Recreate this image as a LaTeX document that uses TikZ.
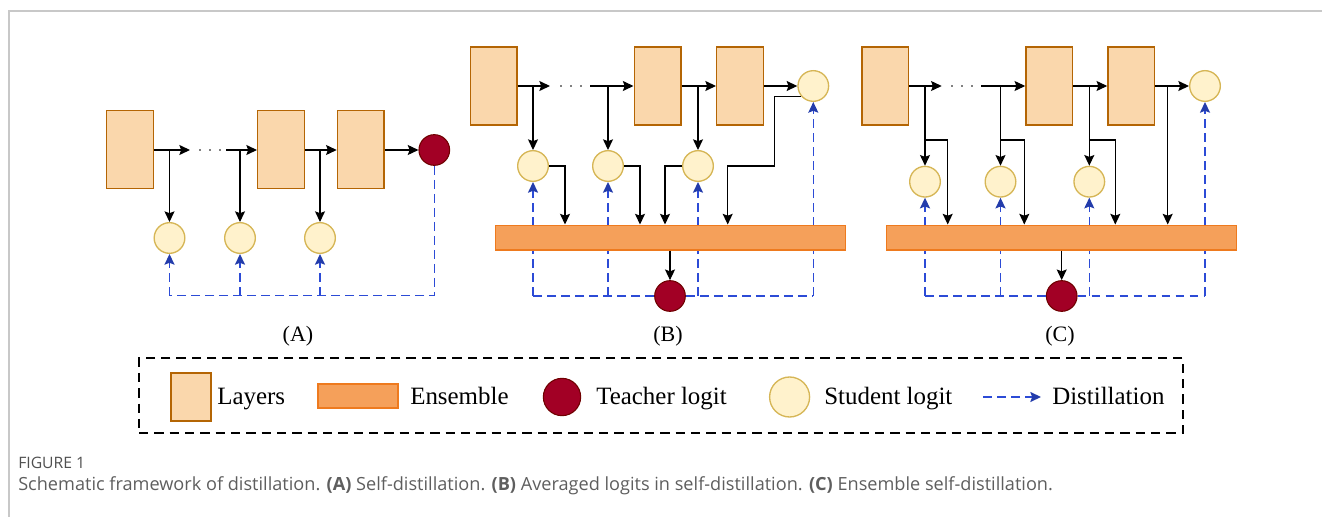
\documentclass[tikz,border=0pt]{standalone}
\usepackage{fontspec}
\setmainfont{Liberation Serif}
\newfontfamily\capfont{Open Sans}
\usetikzlibrary{arrows.meta,calc}
\definecolor{layerfill}{HTML}{FAD7AC}
\definecolor{layerdraw}{HTML}{B46504}
\definecolor{ensfill}{HTML}{F5A05A}
\definecolor{ensdraw}{HTML}{EE7A1E}
\definecolor{teachfill}{HTML}{A20025}
\definecolor{teachdraw}{HTML}{6F0000}
\definecolor{studfill}{HTML}{FFF2CC}
\definecolor{studdraw}{HTML}{D6B656}
\definecolor{distblue}{HTML}{2C4BD6}
\definecolor{capgray}{HTML}{5E5E5E}
\definecolor{framegray}{HTML}{C8C8C8}
\tikzset{
  layer/.style={draw=layerdraw, fill=layerfill, line width=1pt, minimum width=35pt, minimum height=58.5pt, inner sep=0pt},
  ens/.style={draw=ensdraw, fill=ensfill, line width=1pt, minimum width=262.5pt, minimum height=18.5pt, inner sep=0pt},
  teacher/.style={circle, draw=teachdraw, fill=teachfill, line width=0.8pt, minimum size=23pt, inner sep=0pt},
  student/.style={circle, draw=studdraw, fill=studfill, line width=1pt, minimum size=23pt, inner sep=0pt},
  flow/.style={draw=black, line width=0.85pt, -{Stealth[length=8pt,width=7.5pt,inset=1.4pt]}},
  dist/.style={draw=distblue, line width=1.1pt, dash pattern=on 6.5pt off 4pt, -{Stealth[length=8pt,width=7.5pt,inset=1.4pt, color=distblue!80!black]}},
  distline/.style={draw=distblue, line width=1.1pt, dash pattern=on 6.5pt off 4pt},
  plabel/.style={font=\fontsize{16.5}{18}\selectfont},
  legtext/.style={anchor=base west, font=\fontsize{18.7}{20}\selectfont, inner sep=0pt},
}
\newcommand{\tdots}[1]{\foreach \xx in {-10,0,10}{\fill ($(#1)+(\xx,0)$) circle (0.6pt);}}
\begin{document}
\begin{tikzpicture}[x=0.75pt,y=-0.75pt]
\useasboundingbox (0,0) rectangle (1322,517);
% frame
\draw[framegray, line width=1pt] (9,517) -- (9,11) -- (1322,11);

% ================= Panel A =================
\node[layer] (a1) at (130,149.5) {};
\node[layer] (a2) at (281,149.5) {};
\node[layer] (a3) at (360.7,149.5) {};
\node[teacher] (aT) at (434.3,150) {};
\node[student] (as1) at (169.5,238) {};
\node[student] (as2) at (240,238) {};
\node[student] (as3) at (320,238) {};
\coordinate (aend) at (190,150);
\coordinate (astart) at (226,150);
\coordinate (adots) at (210,150);
\tdots{adots}
\draw[flow] (a1.east |- aend) -- (aend);
\draw[flow] (astart) -- (a2.west |- astart);
\draw[flow] (a2.east |- astart) -- (a3.west |- astart);
\draw[flow] (a3.east |- aT) -- (aT.west);
\draw[flow] (as1 |- aend) -- (as1.north);
\draw[flow] (as2 |- aend) -- (as2.north);
\draw[flow] (as3 |- aend) -- (as3.north);
\coordinate (abot) at (434.3,295.7);
\draw[distline] (aT.south) -- (abot) -- (as1 |- abot);
\draw[dist] (as1 |- abot) -- (as1.south);
\draw[dist] (as2 |- abot) -- (as2.south);
\draw[dist] (as3 |- abot) -- (as3.south);
\node[plabel] (la) at (298,336) {(A)};

% ================= Panel B =================
\node[layer] (b1) at (493.5,86) {};
\node[layer] (b2) at (657.5,86) {};
\node[layer] (b3) at (740,86) {};
\node[student] (bt) at (813.3,86) {};
\node[student] (bs1) at (533,166) {};
\node[student] (bs2) at (608,166) {};
\node[student] (bs3) at (698,166) {};
\node[teacher] (bT) at (670,296) {};
\coordinate (bend) at (550,86);
\coordinate (bstart) at (590,86);
\coordinate (bdots) at (571,86);
\tdots{bdots}
% distillation (behind ensemble)
\draw[distline] (bT.west) -- (bs1 |- bT.west);
\draw[dist] (bs1 |- bT.west) -- (bs1.south);
\draw[dist] (bs2 |- bT.west) -- (bs2.south);
\draw[distline] (bT.east) -- (bt |- bT.east);
\draw[dist] (bt |- bT.east) -- (bt.south);
\draw[dist] (bs3 |- bT.east) -- (bs3.south);
\node[ens] (be) at (670.5,237.5) {};
\draw[flow] (b1.east |- bend) -- (bend);
\draw[flow] (bstart) -- (b2.west |- bstart);
\draw[flow] (b2.east |- bstart) -- (b3.west |- bstart);
\draw[flow] (b3.east |- bt) -- (bt.west);
\draw[flow] (bs1 |- bend) -- (bs1.north);
\draw[flow] (bs2 |- bend) -- (bs2.north);
\draw[flow] (bs3 |- bend) -- (bs3.north);
\draw[flow] (bs1.east) -| (565,0 |- be.north);
\draw[flow] (bs2.east) -| (640,0 |- be.north);
\draw[flow] (bs3.west) -| (665,0 |- be.north);
\draw[flow] (bt.220) -| (774.3,166) -| (727.7,0 |- be.north);
\draw[flow] (be.south -| bT) -- (bT.north);
\node[plabel] (lb) at (668,336) {(B)};

% ================= Panel C =================
\node[layer] (c1) at (885.2,86) {};
\node[layer] (c2) at (1049.2,86) {};
\node[layer] (c3) at (1131.2,86) {};
\node[student] (ct) at (1205,86) {};
\node[student] (cs1) at (925,181.7) {};
\node[student] (cs2) at (1000.5,181.7) {};
\node[student] (cs3) at (1089.3,181.7) {};
\node[teacher] (cT) at (1061.7,296) {};
\coordinate (cend) at (941.7,86);
\coordinate (cstart) at (981,86);
\coordinate (cdots) at (962,86);
\tdots{cdots}
\draw[distline] (cT.west) -- (cs1 |- cT.west);
\draw[dist] (cs1 |- cT.west) -- (cs1.south);
\draw[dist] (cs2 |- cT.west) -- (cs2.south);
\draw[distline] (cT.east) -- (ct |- cT.east);
\draw[dist] (ct |- cT.east) -- (ct.south);
\draw[dist] (cs3 |- cT.east) -- (cs3.south);
\node[ens] (ce) at (1061.5,237.5) {};
\draw[flow] (c1.east |- cend) -- (cend);
\draw[flow] (cstart) -- (c2.west |- cstart);
\draw[flow] (c2.east |- cstart) -- (c3.west |- cstart);
\draw[flow] (c3.east |- ct) -- (ct.west);
\draw[flow] (cs1 |- cend) -- (cs1.north);
\draw[flow] (cs2 |- cend) -- (cs2.north);
\draw[flow] (cs3 |- cend) -- (cs3.north);
\draw[flow] (925,140) -| (947.7,0 |- ce.north);
\draw[flow] (1000.5,140) -| (1024.3,0 |- ce.north);
\draw[flow] (1089.3,140) -| (1115.3,0 |- ce.north);
\draw[flow] (1167.7,86) -- (1167.7,0 |- ce.north);
\draw[flow] (ce.south -| cT) -- (cT.north);
\node[plabel] (lc) at (1060,336) {(C)};

% ================= Legend =================
\node[draw=black, line width=1.2pt, dash pattern=on 7pt off 4.5pt, minimum width=783pt, minimum height=56pt, inner sep=0pt] (leg) at (661,395.5) {};
\node[layer, minimum width=30pt, minimum height=36pt] (lgl) at (191,397) {};
\node[legtext] (tl) at (217,404) {Layers};
\node[ens, minimum width=60pt, minimum height=18pt] (lge) at (358,396) {};
\node[legtext] (te) at (410,404) {Ensemble};
\node[teacher, minimum size=28pt] (lgt) at (562,397) {};
\node[legtext] (tt) at (596,404) {Teacher logit};
\node[student, minimum size=30pt] (lgs) at (789.6,397) {};
\node[legtext] (ts) at (824,404) {Student logit};
\coordinate (lda) at (983,397);
\coordinate (ldb) at (1041,397);
\draw[dist] (lda) -- (ldb);
\node[legtext] (td) at (1052,404) {Distillation};

% ================= Caption =================
\node[anchor=west, inner sep=0pt, text=capgray!85!black, font=\capfont\fontsize{11.8}{13}\selectfont] (fig) at (18,463) {FIGURE 1};
\node[anchor=west, inner sep=0pt, text=capgray, font=\capfont\fontsize{13.6}{15}\selectfont] (cap) at (18,486) {Schematic framework of distillation. \textbf{(A)} Self-distillation. \textbf{(B)} Averaged logits in self-distillation. \textbf{(C)} Ensemble self-distillation.};
\end{tikzpicture}
\end{document}
